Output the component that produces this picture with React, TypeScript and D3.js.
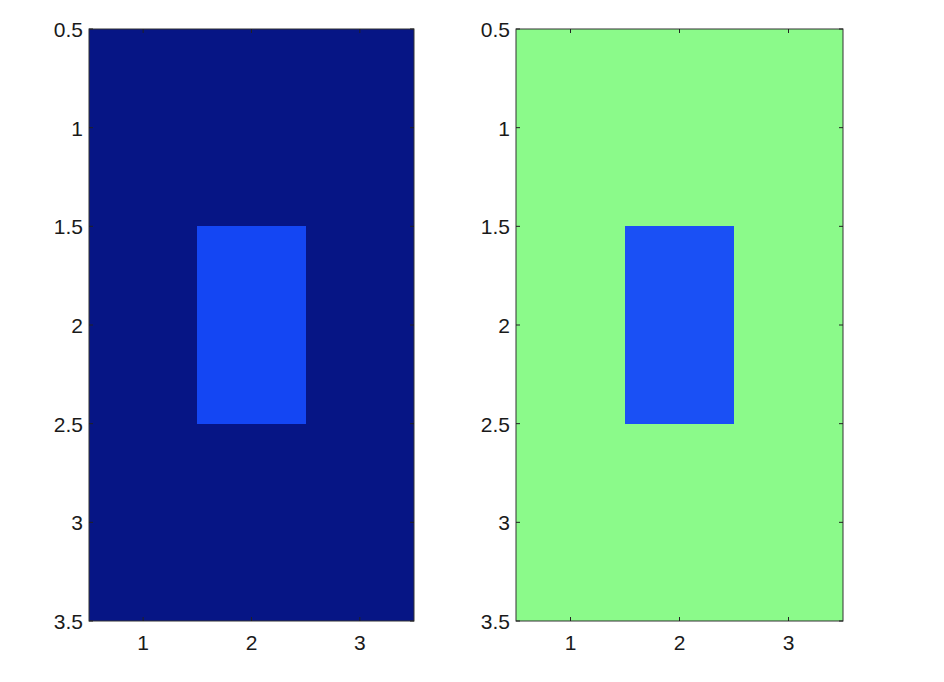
import React, { useRef, useEffect } from "react";
import * as d3 from "d3";

// 3x3 image matrices (rows top to bottom), same layout in both panels
const rows = [1, 2, 3];
const cols = [1, 2, 3];
const leftValues = [
  [0, 0, 0],
  [0, 1, 0],
  [0, 0, 0],
];
const rightValues = [
  [1, 1, 1],
  [1, 0, 1],
  [1, 1, 1],
];
const leftColors = ["#061585", "#1446f3"];
const rightColors = ["#1a50f5", "#8bfa8a"];
const xTicks = [1, 2, 3];
const yTicks = [0.5, 1, 1.5, 2, 2.5, 3, 3.5];

const panels = [
  { values: leftValues, colors: leftColors, x0: 89, x1: 414 },
  { values: rightValues, colors: rightColors, x0: 516, x1: 843 },
];

const font = "'Liberation Sans', Arial, sans-serif";

const App: React.FC = () => {
  const svgRef = useRef<SVGSVGElement | null>(null);

  useEffect(() => {
    const svg = d3.select(svgRef.current);
    svg.selectAll("*").remove();
    const top = 29;
    const bottom = 621;

    panels.forEach((p) => {
      const x = d3.scaleLinear().domain([0.5, 3.5]).range([p.x0, p.x1]);
      const y = d3.scaleLinear().domain([0.5, 3.5]).range([top, bottom]);
      const color = d3.scaleOrdinal<number, string>().domain([0, 1]).range(p.colors);
      const g = svg.append("g");

      const cells = p.values.flatMap((row, i) =>
        row.map((v, j) => ({ r: rows[i], c: cols[j], v }))
      );
      g.selectAll("rect.cell")
        .data(cells)
        .enter()
        .append("rect")
        .attr("class", "cell")
        .attr("shape-rendering", "crispEdges")
        .attr("x", (d) => Math.round(x(d.c - 0.5)))
        .attr("y", (d) => Math.round(y(d.r - 0.5)))
        .attr("width", (d) => Math.round(x(d.c + 0.5)) - Math.round(x(d.c - 0.5)))
        .attr("height", (d) => Math.round(y(d.r + 0.5)) - Math.round(y(d.r - 0.5)))
        .attr("fill", (d) => color(d.v));

      // box
      g.append("rect")
        .attr("x", p.x0)
        .attr("y", top)
        .attr("width", p.x1 - p.x0)
        .attr("height", bottom - top)
        .attr("fill", "none")
        .attr("stroke", "#333")
        .attr("stroke-width", 1);

      // ticks inside
      const tl = 4;
      xTicks.forEach((t) => {
        g.append("line").attr("x1", x(t)).attr("x2", x(t)).attr("y1", bottom).attr("y2", bottom - tl).attr("stroke", "#222");
        g.append("line").attr("x1", x(t)).attr("x2", x(t)).attr("y1", top).attr("y2", top + tl).attr("stroke", "#222");
        g.append("text")
          .attr("x", x(t))
          .attr("y", bottom + 29)
          .attr("text-anchor", "middle")
          .attr("font-family", font)
          .attr("font-size", 21)
          .attr("fill", "#1a1a1a")
          .text(String(t));
      });
      yTicks.forEach((t) => {
        g.append("line").attr("x1", p.x0).attr("x2", p.x0 + tl).attr("y1", y(t)).attr("y2", y(t)).attr("stroke", "#222");
        g.append("line").attr("x1", p.x1).attr("x2", p.x1 - tl).attr("y1", y(t)).attr("y2", y(t)).attr("stroke", "#222");
        g.append("text")
          .attr("x", p.x0 - 6)
          .attr("y", y(t) + 8)
          .attr("text-anchor", "end")
          .attr("font-family", font)
          .attr("font-size", 21)
          .attr("fill", "#1a1a1a")
          .text(String(t));
      });
    });
  }, []);

  return (
    <svg
      ref={svgRef}
      width={944}
      height={682}
      style={{ position: "absolute", left: 0, top: 0, background: "#fff" }}
    ></svg>
  );
};

export default App;
